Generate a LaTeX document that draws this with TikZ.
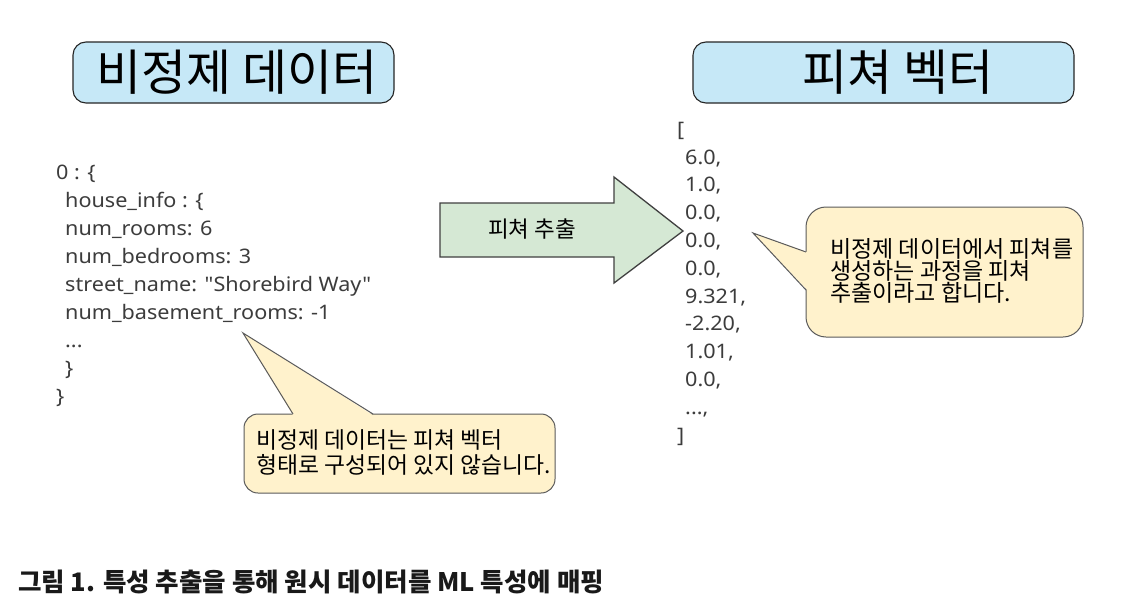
\documentclass[tikz,border=0pt]{standalone}
\usepackage{fontspec}
\setmainfont{Noto Sans CJK KR}
\newfontfamily\latinfont{Noto Sans}[FakeStretch=1.08]
\usetikzlibrary{calc}
\definecolor{titlefill}{HTML}{C6E8F7}
\definecolor{arrowfill}{HTML}{D5E8D4}
\definecolor{callfill}{HTML}{FFF2CC}
\definecolor{callline}{HTML}{5A5A5A}
\definecolor{codetext}{HTML}{3C3C3C}
\tikzset{
  titlebox/.style={draw=black!85, line width=1.1pt, fill=titlefill, rounded corners=13pt},
  titletext/.style={font=\fontsize{49}{55}\selectfont, inner sep=0pt, text=black},
  codeline/.style={anchor=base west, inner sep=0pt, text=codetext, font=\latinfont\fontsize{20}{24}\selectfont},
  callbox/.style={draw=callline, line width=1pt, fill=callfill},
  calltext/.style={anchor=west, inner sep=0pt, align=left, text=black},
  arrowshape/.style={draw=black!75, line width=1.3pt, fill=arrowfill, line join=miter},
}
\begin{document}
\begin{tikzpicture}[x=1pt,y=-1pt]
\useasboundingbox[fill=white] (0,0) rectangle (1139,613);

% title boxes
\draw[titlebox] (73,42) rectangle (394,103);
\node[titletext] (t1) at (237,72) {비정제 데이터};
\draw[titlebox] (693,42) rectangle (1074,103);
\node[titletext] (t2) at (898,72) {피쳐 벡터};

% raw data
\node[codeline] (j0) at (56,179) {0 : \{};
\node[codeline] (j1) at (65,207) {house\_info : \{};
\node[codeline] (j2) at (65,235) {num\_rooms: 6};
\node[codeline] (j3) at (65,263) {num\_bedrooms: 3};
\node[codeline] (j4) at (65,291) {street\_name: "Shorebird Way"};
\node[codeline] (j5) at (65,319) {num\_basement\_rooms: -1};
\node[codeline] (j6) at (65,347) {...};
\node[codeline] (j7) at (65,375) {\}};
\node[codeline] (j8) at (56,403) {\}};

% feature vector
\node[codeline] (v0) at (677,136) {[};
\node[codeline] (v1) at (685,164.0) {6.0,};
\node[codeline] (v2) at (685,191.8) {1.0,};
\node[codeline] (v3) at (685,219.6) {0.0,};
\node[codeline] (v4) at (685,247.4) {0.0,};
\node[codeline] (v5) at (685,275.2) {0.0,};
\node[codeline] (v6) at (685,303.0) {9.321,};
\node[codeline] (v7) at (685,330.8) {-2.20,};
\node[codeline] (v8) at (685,358.6) {1.01,};
\node[codeline] (v9) at (685,386.4) {0.0,};
\node[codeline] (v10) at (685,414.2) {...,};
\node[codeline] (v11) at (677,442) {]};

% block arrow
\draw[arrowshape] (440,203) -- (614,203) -- (614,177) -- (683,231) -- (614,283) -- (614,257) -- (440,257) -- cycle;
\node[inner sep=0pt, font=\fontsize{22.5}{26}\selectfont] (arrowlabel) at (532,229) {피쳐 추출};

% callout 1
\draw[callbox, rounded corners=14pt] (244,414) rectangle (555,493);
\fill[callfill] (293,415.2) -- (243,333) -- (373,415.2) -- cycle;
\draw[callline, line width=1pt, line join=miter] (293,414) -- (243,333) -- (373,414);
\node[calltext, font=\fontsize{22.8}{25}\selectfont] (c1) at (256,452.5) {비정제 데이터는 피쳐 벡터\\형태로 구성되어 있지 않습니다.};

% callout 2
\draw[callbox, rounded corners=20pt] (806,207) rectangle (1083,337);
\fill[callfill] (807.2,252) -- (753,233) -- (807.2,290) -- cycle;
\draw[callline, line width=1pt, line join=miter] (806,252) -- (753,233) -- (806,290);
\node[calltext, font=\fontsize{23}{22}\selectfont] (c2) at (830,270.5) {비정제 데이터에서 피쳐를\\생성하는 과정을 피쳐\\추출이라고 합니다.};

% caption
\node[anchor=west, inner sep=0pt, font=\bfseries\fontsize{25.5}{30}\selectfont, text=black!90] (cap) at (18,582) {그림 1. 특성 추출을 통해 원시 데이터를 ML 특성에 매핑};
\end{tikzpicture}
\end{document}
